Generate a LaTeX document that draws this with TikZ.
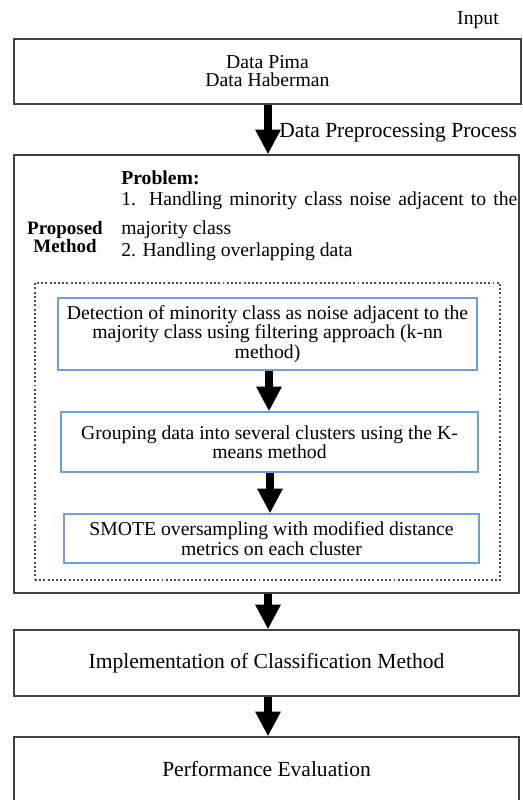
\documentclass[tikz,border=0pt]{standalone}
\usepackage{fontspec}
\setmainfont{Liberation Serif}
\usetikzlibrary{arrows.meta,positioning}
\definecolor{boxblue}{RGB}{110,160,220}
\begin{document}
\begin{tikzpicture}[x=0.025cm, y=-0.025cm,
    main box/.style={draw=black!75, line width=0.9pt, align=center, inner sep=0pt, font=\fontsize{15.3}{13}\selectfont},
    inner box/.style={draw=boxblue, line width=0.9pt, align=center, inner sep=0pt, font=\fontsize{14}{12.5}\selectfont},
    txt/.style={inner sep=0pt, font=\fontsize{14}{14}\selectfont},
    big arrow/.style={line width=0.2cm, -{Triangle[width=0.6cm,length=0.62cm]}}]
    \useasboundingbox (0,0) rectangle (522,800);

    \node[txt] at (478,20) (input) {Input};
    \node[main box, minimum width=12.675cm, minimum height=1.625cm, font=\fontsize{14}{12.8}\selectfont] at (267.5,71.5) (data) {Data Pima\\Data Haberman};

    \node[main box, minimum width=12.625cm, minimum height=10.95cm] at (266.5,374) (method) {};
    \node[txt, font=\fontsize{15.3}{15}\selectfont, anchor=mid west] at (279,134) (prep) {Data Preprocessing Process};

    \node[txt, font=\fontsize{14}{14}\selectfont\bfseries, anchor=mid west] at (121,181) (problem) {Problem:};
    \node[txt, anchor=mid west] at (121,202) (prob1) {\makebox[9.9cm][s]{1. Handling minority class noise adjacent to the}};
    \node[txt, anchor=mid west] at (121,231) (prob1b) {majority class};
    \node[txt, anchor=mid west] at (121,253) (prob2) {2. Handling overlapping data};
    \node[txt, align=center, font=\fontsize{13.5}{13.5}\selectfont\bfseries] at (65,237) (proposed) {Proposed\\Method};

    \node[draw=black!70, line width=1.2pt, dash pattern=on 1.4pt off 1.6pt, minimum width=11.625cm, minimum height=7.425cm] at (267.5,431.5) (frame) {};

    \node[inner box, minimum width=10.475cm, minimum height=1.8cm] at (267.5,334) (detect) {Detection of minority class as noise adjacent to the\\majority class using filtering approach (k-nn\\method)};
    \node[inner box, minimum width=10.425cm, minimum height=1.5cm] at (269.5,442) (group) {Grouping data into several clusters using the K-\\means method};
    \node[inner box, minimum width=10.375cm, minimum height=1.225cm, font=\fontsize{14}{14.2}\selectfont] at (271.5,538.5) (smote) {SMOTE oversampling with modified distance\\metrics on each cluster};

    \node[main box, minimum width=12.625cm, minimum height=1.65cm] at (266.5,663) (classify) {Implementation of Classification Method};
    \node[main box, minimum width=12.625cm, minimum height=1.6cm] at (266.5,769) (eval) {Performance Evaluation};

    \draw[big arrow] (268,0 |- data.south) -- (268,0 |- method.north);
    \draw[big arrow] (269,0 |- detect.south) -- (269,0 |- group.north);
    \draw[big arrow] (270,0 |- group.south) -- (270,0 |- smote.north);
    \draw[big arrow] (268,0 |- method.south) -- (268,0 |- classify.north);
    \draw[big arrow] (268,0 |- classify.south) -- (268,0 |- eval.north);

\end{tikzpicture}
\end{document}
